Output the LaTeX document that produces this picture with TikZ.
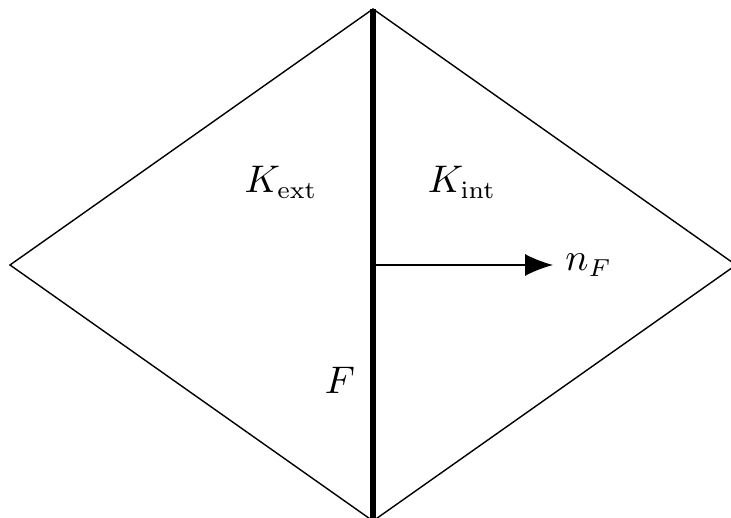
\documentclass[tikz,border=0pt]{standalone}
\usepackage{tikz}
\usetikzlibrary{positioning,arrows.meta}

\begin{document}
\begin{tikzpicture}[
    edge/.style={draw, thin},
    face/.style={draw, ultra thick},
    arr/.style={-{Latex[length=2.8mm,width=2.2mm]}, thin},
    lbl/.style={font=\fontsize{10.5}{13}\selectfont}
]
\useasboundingbox (-3.73,-2.53) rectangle (3.58,2.65);

% Vertices of the two elements
\coordinate (l) at (-3.63,0);
\coordinate (r) at (3.63,0);
\coordinate (t) at (0,2.56);
\coordinate (b) at (0,-2.56);
\coordinate (m) at (0,0);

% Outline
\draw[edge] (l) -- (t) -- (r) -- (b) -- cycle;

% Shared face
\draw[face] (t) -- (b);

% Normal
\coordinate (ne) at (1.80,0);
\draw[arr] (m) -- (ne);
\node[lbl, right=0pt of ne] (nf) {$n_F$};

% Labels
\node[lbl] (kext) at (-0.92,0.83) {$K_{\mathrm{ext}}$};
\node[lbl] (kint) at (0.89,0.83) {$K_{\mathrm{int}}$};
\node[lbl] (f) at (-0.33,-1.15) {$F$};
\end{tikzpicture}
\end{document}
